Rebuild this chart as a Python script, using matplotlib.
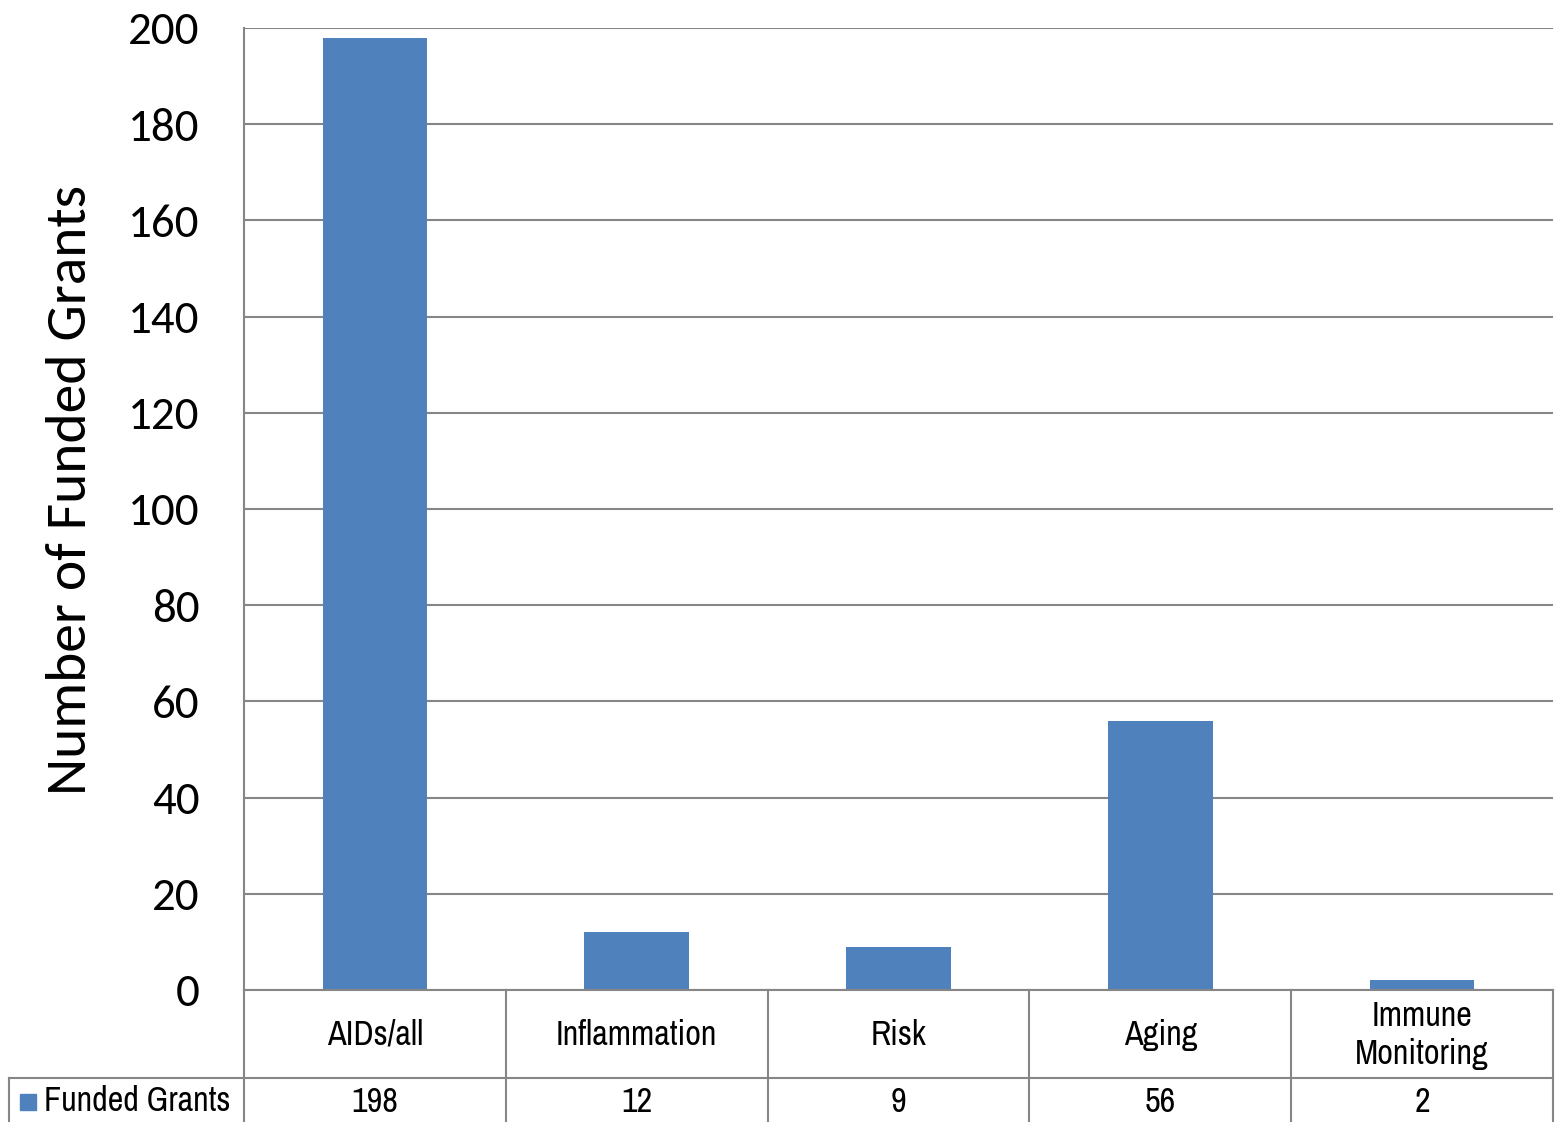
import matplotlib
matplotlib.use("Agg")
import matplotlib.pyplot as plt
import matplotlib.transforms as mtransforms
from matplotlib.lines import Line2D
from matplotlib import font_manager
import numpy as np

categories = ["AIDs/all", "Inflammation", "Risk", "Aging", "Immune\nMonitoring"]
values = [198, 12, 9, 56, 2]
series_name = "Funded Grants"
yticks = [0, 20, 40, 60, 80, 100, 120, 140, 160, 180, 200]

names = {f.name for f in font_manager.fontManager.ttflist}

def pick(cands, default):
    for c in cands:
        if c in names:
            return c
    return default

narrow = pick(["Liberation Sans Narrow", "Archivo Narrow", "Roboto Condensed",
               "PT Sans Narrow", "Fira Sans Condensed", "Open Sans Condensed"], "DejaVu Sans")
calib = pick(["Carlito", "Lato"], "DejaVu Sans")

W, H = 1557, 1122
fig = plt.figure(figsize=(W / 100, H / 100), dpi=100)
fig.patch.set_facecolor("white")
renderer = fig.canvas.get_renderer()

def fx(px):
    return px / W

def fy(py):
    return 1 - py / H

def fit(text_artist, target_w, use_height=False):
    bb = text_artist.get_window_extent(renderer=renderer)
    cur = bb.height if use_height else bb.width
    text_artist.set_fontsize(text_artist.get_fontsize() * target_w / cur)

left, right, top, bottom = 244, 1553, 28, 990
ax = fig.add_axes([fx(left), fy(bottom), fx(right) - fx(left), fy(top) - fy(bottom)])

bar_color = "#4F81BD"
grid_color = "#868686"
x = np.arange(len(categories))
ax.bar(x, values, width=0.4, color=bar_color, zorder=3)
ax.set_xlim(-0.5, len(categories) - 0.5)
ax.set_ylim(0, 200)
ax.set_yticks(yticks)

# size tick labels so "200" is ~71 px wide
probe = fig.text(0, 0, "200", fontsize=28, family=calib)
fit(probe, 71)
tick_fs = probe.get_fontsize()
probe.remove()
ax.set_yticklabels([str(t) for t in yticks], fontsize=tick_fs, family=[calib, "DejaVu Sans"])
ax.tick_params(axis="y", length=0, pad=32)
ax.set_xticks([])
ax.yaxis.grid(True, color=grid_color, linewidth=1.5, zorder=0)
for s in ["top", "right", "bottom"]:
    ax.spines[s].set_visible(False)
ax.spines["left"].set_color(grid_color)
ax.spines["left"].set_linewidth(1.5)

probe = fig.text(0, 0, "Number of Funded Grants", fontsize=38, family=calib)
fit(probe, 610)
ylab_fs = probe.get_fontsize()
probe.remove()
ax.set_ylabel("Number of Funded Grants", fontsize=ylab_fs, family=[calib, "DejaVu Sans"],
              labelpad=24, y=0.52)

# table font sized so "Inflammation" is ~162 px wide
probe = fig.text(0, 0, "Inflammation", fontsize=20, family=narrow)
fit(probe, 162)
tfs = probe.get_fontsize()
probe.remove()
tprops = dict(family=[narrow, "DejaVu Sans"], fontsize=tfs)

# data table below the axes
lc = grid_color
lw = 1.5
row1 = 1078
fig.add_artist(Line2D([fx(left), fx(right)], [fy(bottom), fy(bottom)], color=lc, lw=lw))
fig.add_artist(Line2D([fx(9), fx(right)], [fy(row1), fy(row1)], color=lc, lw=lw))
fig.add_artist(Line2D([fx(9), fx(9)], [fy(row1), 0], color=lc, lw=lw))
trans = mtransforms.blended_transform_factory(ax.transData, fig.transFigure)
for b in np.arange(-0.5, len(categories), 1.0):
    fig.add_artist(Line2D([b, b], [fy(bottom), 0], color=lc, lw=lw, transform=trans))

for i, (c, v) in enumerate(zip(categories, values)):
    fig.text(i, fy(1035), c, transform=trans, ha="center", va="center",
             linespacing=1.2, **tprops)
    fig.text(i, fy(1102), str(v), transform=trans, ha="center", va="center", **tprops)

fig.add_artist(plt.Rectangle((fx(20), fy(1110)), fx(16), fy(1094) - fy(1110),
                             color=bar_color, transform=fig.transFigure))
fig.text(fx(44), fy(1101), series_name, ha="left", va="center", **tprops)

fig.savefig("out.png", dpi=100, facecolor="white")
